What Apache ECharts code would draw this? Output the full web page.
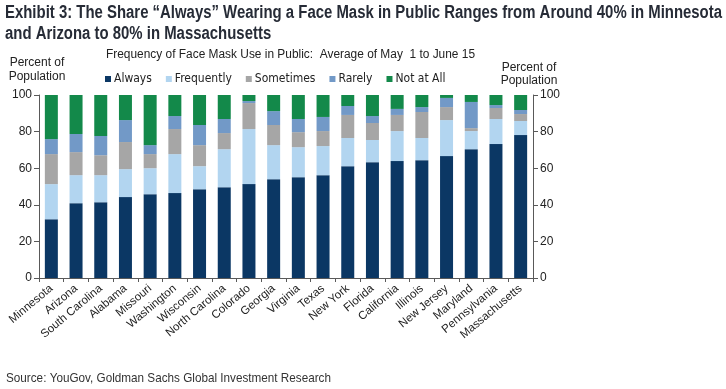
<!DOCTYPE html>
<html><head><meta charset="utf-8">
<script src="https://cdn.jsdelivr.net/npm/echarts@6/dist/echarts.min.js"></script>
<style>html,body{margin:0;padding:0;background:#fff}#c{width:726px;height:389px}</style>
</head><body><div id="c"></div>
<script>
const categories = ["Minnesota","Arizona","South Carolina","Alabama","Missouri","Washington","Wisconsin","North Carolina","Colorado","Georgia","Virginia","Texas","New York","Florida","California","Illinois","New Jersey","Maryland","Pennsylvania","Massachusetts"];
const always     = [32.1,40.9,41.4,44.2,45.8,46.4,48.5,49.6,51.3,54.0,55.1,56.2,61.1,63.3,63.9,64.4,66.6,70.4,73.2,78.1];
const frequently = [19.2,15.3,14.8,15.3,14.2,21.3,12.6,20.8,30.1,18.6,16.4,15.9,15.4,12.1,16.4,12.1,19.7,9.9,13.7,7.7];
const sometimes  = [16.4,12.6,10.9,14.8,7.7,13.7,11.5,8.8,14.2,11.0,8.2,8.2,12.6,9.3,8.8,14.2,7.1,1.6,6.0,3.8];
const rarely     = [8.2,9.9,10.5,12.0,4.9,7.1,11.0,7.7,1.1,7.6,7.2,7.7,4.9,3.8,3.3,2.7,5.0,14.3,1.6,2.2];
const notAtAll   = [24.1,21.3,22.4,13.7,27.4,11.5,16.4,13.1,3.3,8.8,13.1,12.0,6.0,11.5,7.6,6.6,1.6,3.8,5.5,8.2];
const yTicks = [0,20,40,60,80,100];

const titleLine1 = 'Exhibit 3: The Share \u201cAlways\u201d Wearing a Face Mask in Public Ranges from Around 40% in Minnesota';
const titleLine2 = 'and Arizona to 80% in Massachusetts';
const subtitle = 'Frequency of Face Mask Use in Public:  Average of May  1 to June 15';
const sourceText = 'Source: YouGov, Goldman Sachs Global Investment Research';

const SANS = "'Liberation Sans', Arial, sans-serif";
const COND = "'DejaVu Sans Condensed', 'Liberation Sans', sans-serif";
const mctx = document.createElement('canvas').getContext('2d');
function fit(text, font, width){ mctx.font = font; return width / mctx.measureText(text).width; }

const titleFont = "bold 17.5px 'Liberation Sans', Arial, sans-serif";
const titleScale = fit(titleLine1, titleFont, 717);
const subFont = "12.5px 'Liberation Sans', Arial, sans-serif";
const subScale = fit(subtitle, subFont, 369);
const srcFont = "13.5px 'Liberation Sans', Arial, sans-serif";
const srcScale = fit(sourceText, srcFont, 325);

function gtext(text, x, y, font, fill, scaleX, align){
  return {type:'text', x, y, scaleX:scaleX||1, silent:true,
    style:{text, font, fill, textAlign:align||'left', textVerticalAlign:'middle'}};
}

const chart = echarts.init(document.getElementById('c'), null, {renderer:'canvas'});
const axisLine = {show:true, lineStyle:{color:'#595959', width:1}};
function s(name, data, color){
  return {name, type:'bar', stack:'t', data, barWidth:13, yAxisIndex:0,
    itemStyle:{color}, emphasis:{disabled:true}};
}
chart.setOption({
  animation:false,
  textStyle:{fontFamily:SANS},
  graphic:[
    gtext(titleLine1, 5, 13.5, titleFont, '#262b36', titleScale),
    gtext(titleLine2, 5, 34.5, titleFont, '#262b36', titleScale),
    gtext(subtitle, 106, 54.5, subFont, '#222', subScale),
    gtext('Percent of', 37, 62.5, "12px 'Liberation Sans', Arial, sans-serif", '#222', 1, 'center'),
    gtext('Population', 37, 76.5, "12px 'Liberation Sans', Arial, sans-serif", '#222', 1, 'center'),
    gtext('Percent of', 529, 67.5, "12px 'Liberation Sans', Arial, sans-serif", '#222', 1, 'center'),
    gtext('Population', 529, 80.5, "12px 'Liberation Sans', Arial, sans-serif", '#222', 1, 'center'),
    gtext(sourceText, 6, 378, srcFont, '#333', srcScale)
  ],
  legend:{left:100, top:68, itemWidth:6, itemHeight:6, itemGap:14, icon:'rect',
    textStyle:{fontFamily:COND, fontSize:12, color:'#222', padding:[0,0,0,-2]},
    data:['Always','Frequently','Sometimes','Rarely','Not at All']},
  grid:{left:39, right:193, top:95, bottom:111, containLabel:false},
  xAxis:{type:'category', data:categories, axisLine,
    axisTick:{show:true, alignWithLabel:false, length:4, lineStyle:{color:'#595959'}},
    axisLabel:{rotate:40, interval:0, fontFamily:SANS, fontSize:11.5, color:'#222', margin:9}},
  yAxis:[
    {type:'value', min:0, max:100, interval:20, position:'left', axisLine,
     axisTick:{show:true, length:5, lineStyle:{color:'#595959'}}, splitLine:{show:false},
     axisLabel:{fontFamily:SANS, fontSize:12, color:'#222', margin:7,
       formatter:v=>yTicks.includes(v)?String(v):''}},
    {type:'value', min:0, max:100, interval:20, position:'right', axisLine,
     axisTick:{show:true, length:5, lineStyle:{color:'#595959'}}, splitLine:{show:false},
     axisLabel:{fontFamily:SANS, fontSize:12, color:'#222', margin:7,
       formatter:v=>yTicks.includes(v)?String(v):''}}
  ],
  series:[
    s('Always', always, '#0b3764'),
    s('Frequently', frequently, '#b2d5f0'),
    s('Sometimes', sometimes, '#a6a6a6'),
    s('Rarely', rarely, '#7299c7'),
    s('Not at All', notAtAll, '#13894a')
  ]
});
</script></body></html>
